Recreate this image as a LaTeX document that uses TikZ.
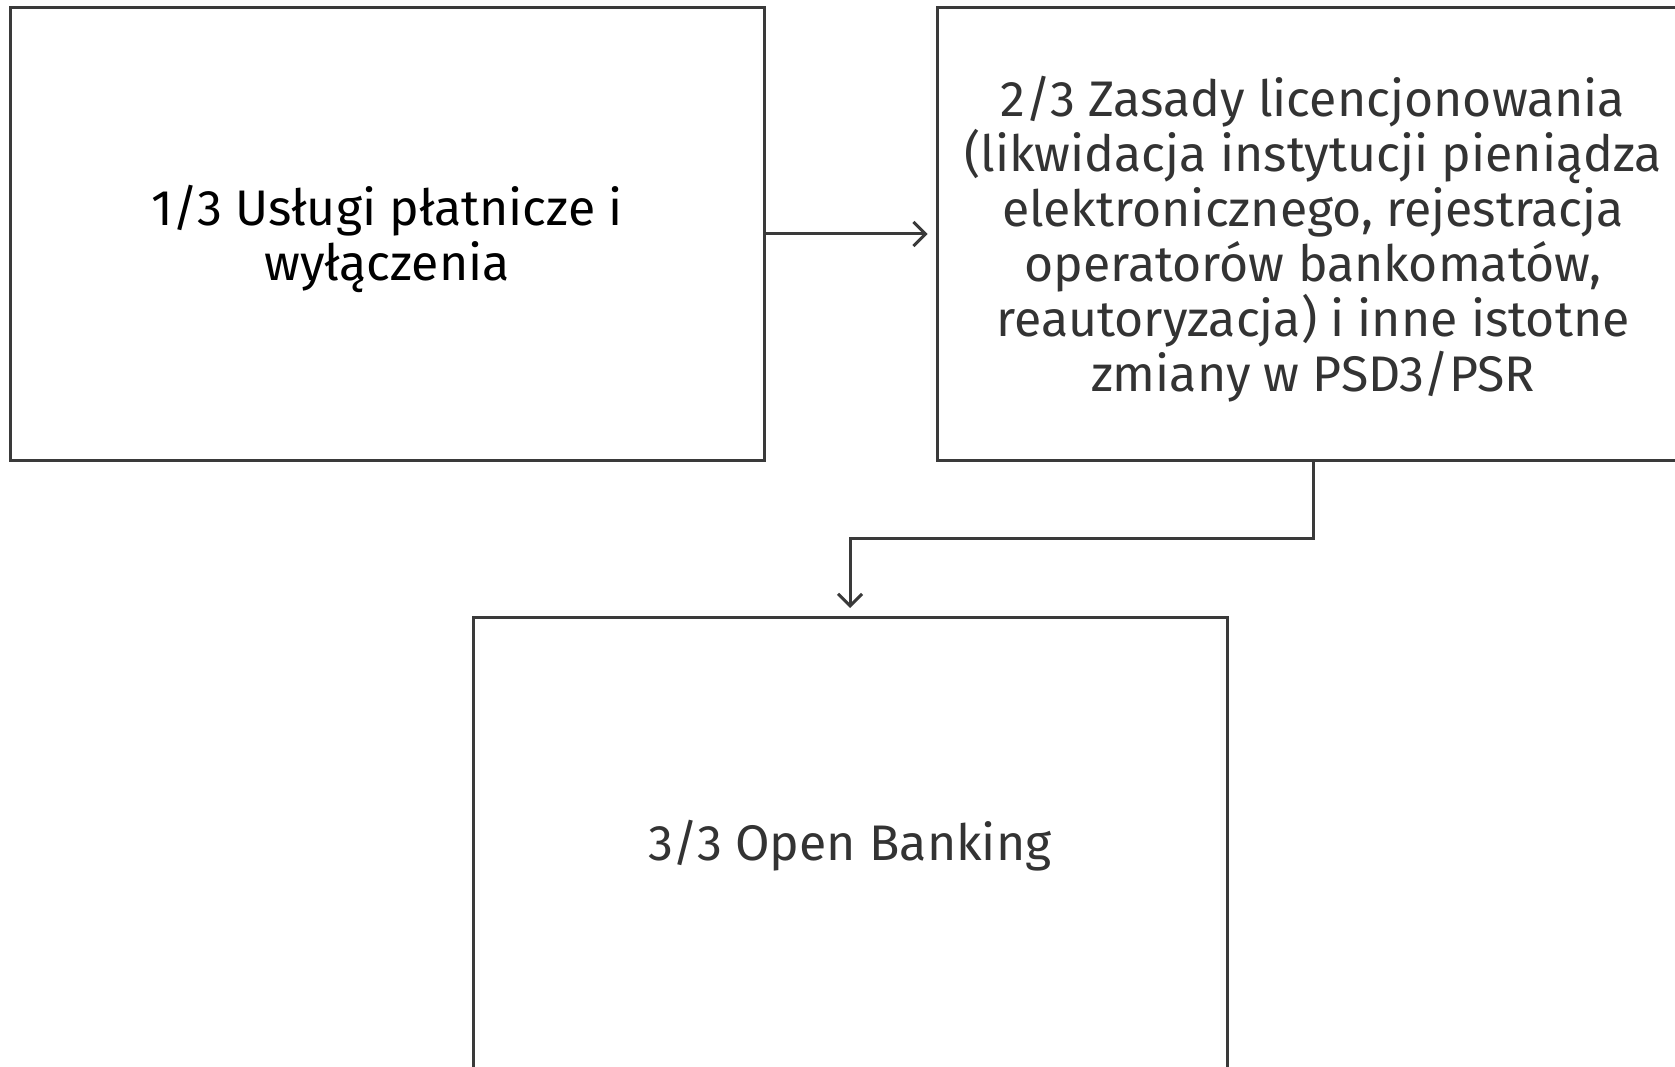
\documentclass[tikz,border=0pt]{standalone}
\usepackage{fontspec}
\setmainfont{Fira Sans}
\usetikzlibrary{arrows.meta,calc}
\definecolor{linegray}{HTML}{3A3A3A}
\definecolor{textgray}{HTML}{333333}
\begin{document}
\begin{tikzpicture}[x=1pt,y=-1pt,
  box/.style={draw=linegray, line width=3pt, rectangle, minimum width=754pt,
    minimum height=452pt, inner sep=0pt},
  boxtext/.style={align=center, inner sep=0pt, font=\fontsize{50}{55}\selectfont},
  conn/.style={draw=linegray, line width=3pt,
    -{Straight Barb[length=12pt,width=24pt,line width=3pt]}, shorten >=8pt}]
  \useasboundingbox (0,0) rectangle (1675,1067);
  \fill[white] (0,0) rectangle (1675,1067);

  \node[box, label={[boxtext, text=black, yshift=-5pt]center:1/3 Usługi płatnicze i\\wyłączenia}] (b1) at (387,234) {};
  \node[box, minimum width=752pt,
    label={[boxtext, text=textgray, yshift=-5pt]center:2/3 Zasady licencjonowania\\(likwidacja instytucji pieniądza\\elektronicznego, rejestracja\\operatorów bankomatów,\\reautoryzacja) i inne istotne\\zmiany w PSD3/PSR}] (b2) at (1313,234) {};
  \node[box, label={[boxtext, text=textgray, yshift=-2pt]center:3/3 Open Banking}] (b3) at (850,843.5) {};

  \draw[conn] (b1.east) -- (b2.west);
  \draw[conn] (b2.south) |- ($(b2.south)!.5!(b3.north)$) -| (b3.north);
\end{tikzpicture}
\end{document}
